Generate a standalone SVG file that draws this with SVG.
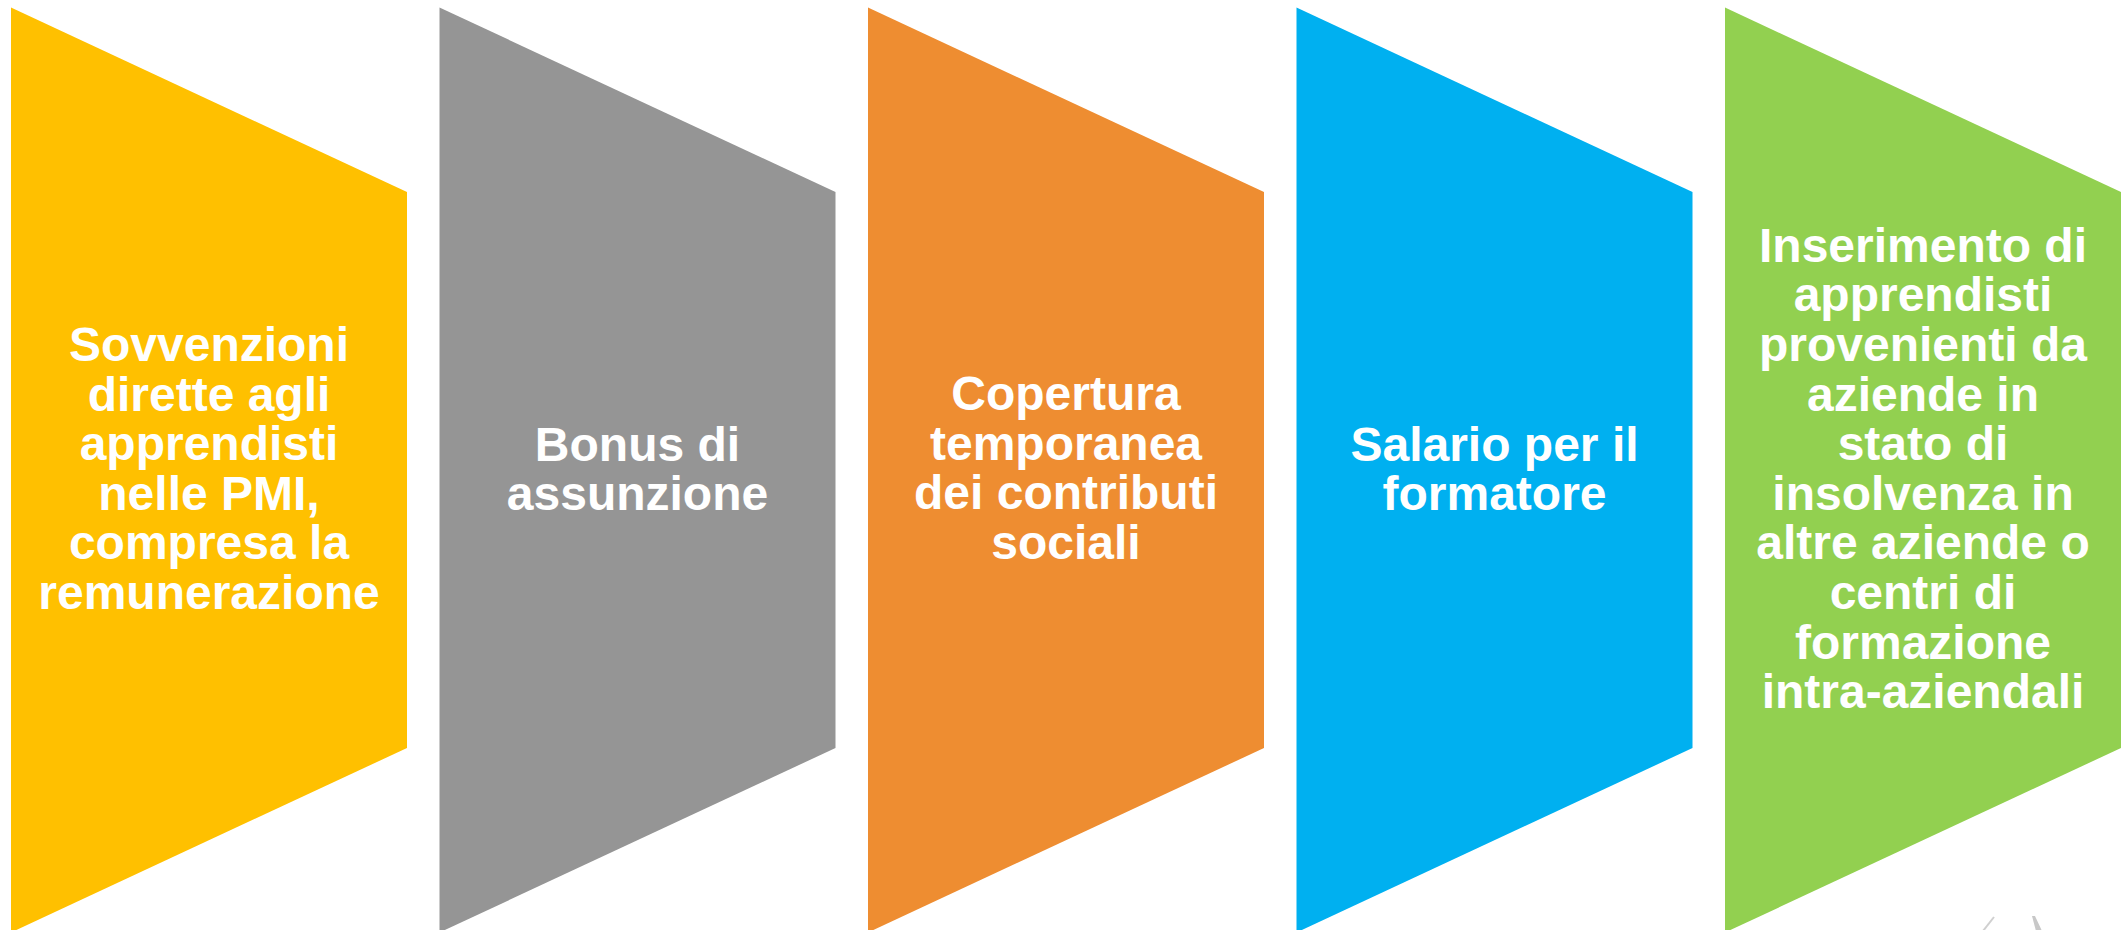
<svg xmlns="http://www.w3.org/2000/svg" width="2121" height="930" viewBox="0 0 2121 930">
<style>
.lbl{font-family:"Liberation Sans",Arial,sans-serif;font-weight:bold;font-size:48px;fill:#ffffff;text-anchor:middle}
</style>
<rect x="0" y="0" width="2121" height="930" fill="#ffffff"/>
<g id="node1">
<polygon points="11,7.5 407,192 407,748 11,932.5" fill="#FFC000"/>
<text class="lbl" x="209"><tspan x="209" y="361">Sovvenzioni</tspan><tspan x="209" y="410.6">dirette agli</tspan><tspan x="209" y="460.2">apprendisti</tspan><tspan x="209" y="509.8">nelle PMI,</tspan><tspan x="209" y="559.4">compresa la</tspan><tspan x="209" y="609">remunerazione</tspan></text>
</g>
<g id="node2">
<polygon points="439.5,7.5 835.5,192 835.5,748 439.5,932.5" fill="#959595"/>
<text class="lbl" x="637.5"><tspan x="637.5" y="460.5">Bonus di</tspan><tspan x="637.5" y="509.5">assunzione</tspan></text>
</g>
<g id="node3">
<polygon points="868,7.5 1264,192 1264,748 868,932.5" fill="#EE8D31"/>
<text class="lbl" x="1066"><tspan x="1066" y="410">Copertura</tspan><tspan x="1066" y="459.5">temporanea</tspan><tspan x="1066" y="509">dei contributi</tspan><tspan x="1066" y="558.5">sociali</tspan></text>
</g>
<g id="node4">
<polygon points="1296.5,7.5 1692.5,192 1692.5,748 1296.5,932.5" fill="#00B0F0"/>
<text class="lbl" x="1494.5"><tspan x="1494.5" y="461">Salario per il</tspan><tspan x="1494.5" y="510">formatore</tspan></text>
</g>
<g id="node5">
<polygon points="1725,7.5 2121,192 2121,748 1725,932.5" fill="#92D050"/>
<text class="lbl" x="1923"><tspan x="1923" y="261.7">Inserimento di</tspan><tspan x="1923" y="311.3">apprendisti</tspan><tspan x="1923" y="360.9">provenienti da</tspan><tspan x="1923" y="410.5">aziende in</tspan><tspan x="1923" y="460.1">stato di</tspan><tspan x="1923" y="509.7">insolvenza in</tspan><tspan x="1923" y="559.3">altre aziende o</tspan><tspan x="1923" y="608.9">centri di</tspan><tspan x="1923" y="658.5">formazione</tspan><tspan x="1923" y="708.1">intra-aziendali</tspan></text>
</g>
<g id="connectors"/>
<g id="mark" fill="none" stroke="#d0d0d0" stroke-width="2">
<line x1="1983" y1="931" x2="1994" y2="917"/>
<polygon points="2032,916 2035,916 2042,931 2036,931" fill="#c8c8c8" stroke="none"/>
</g>
</svg>
